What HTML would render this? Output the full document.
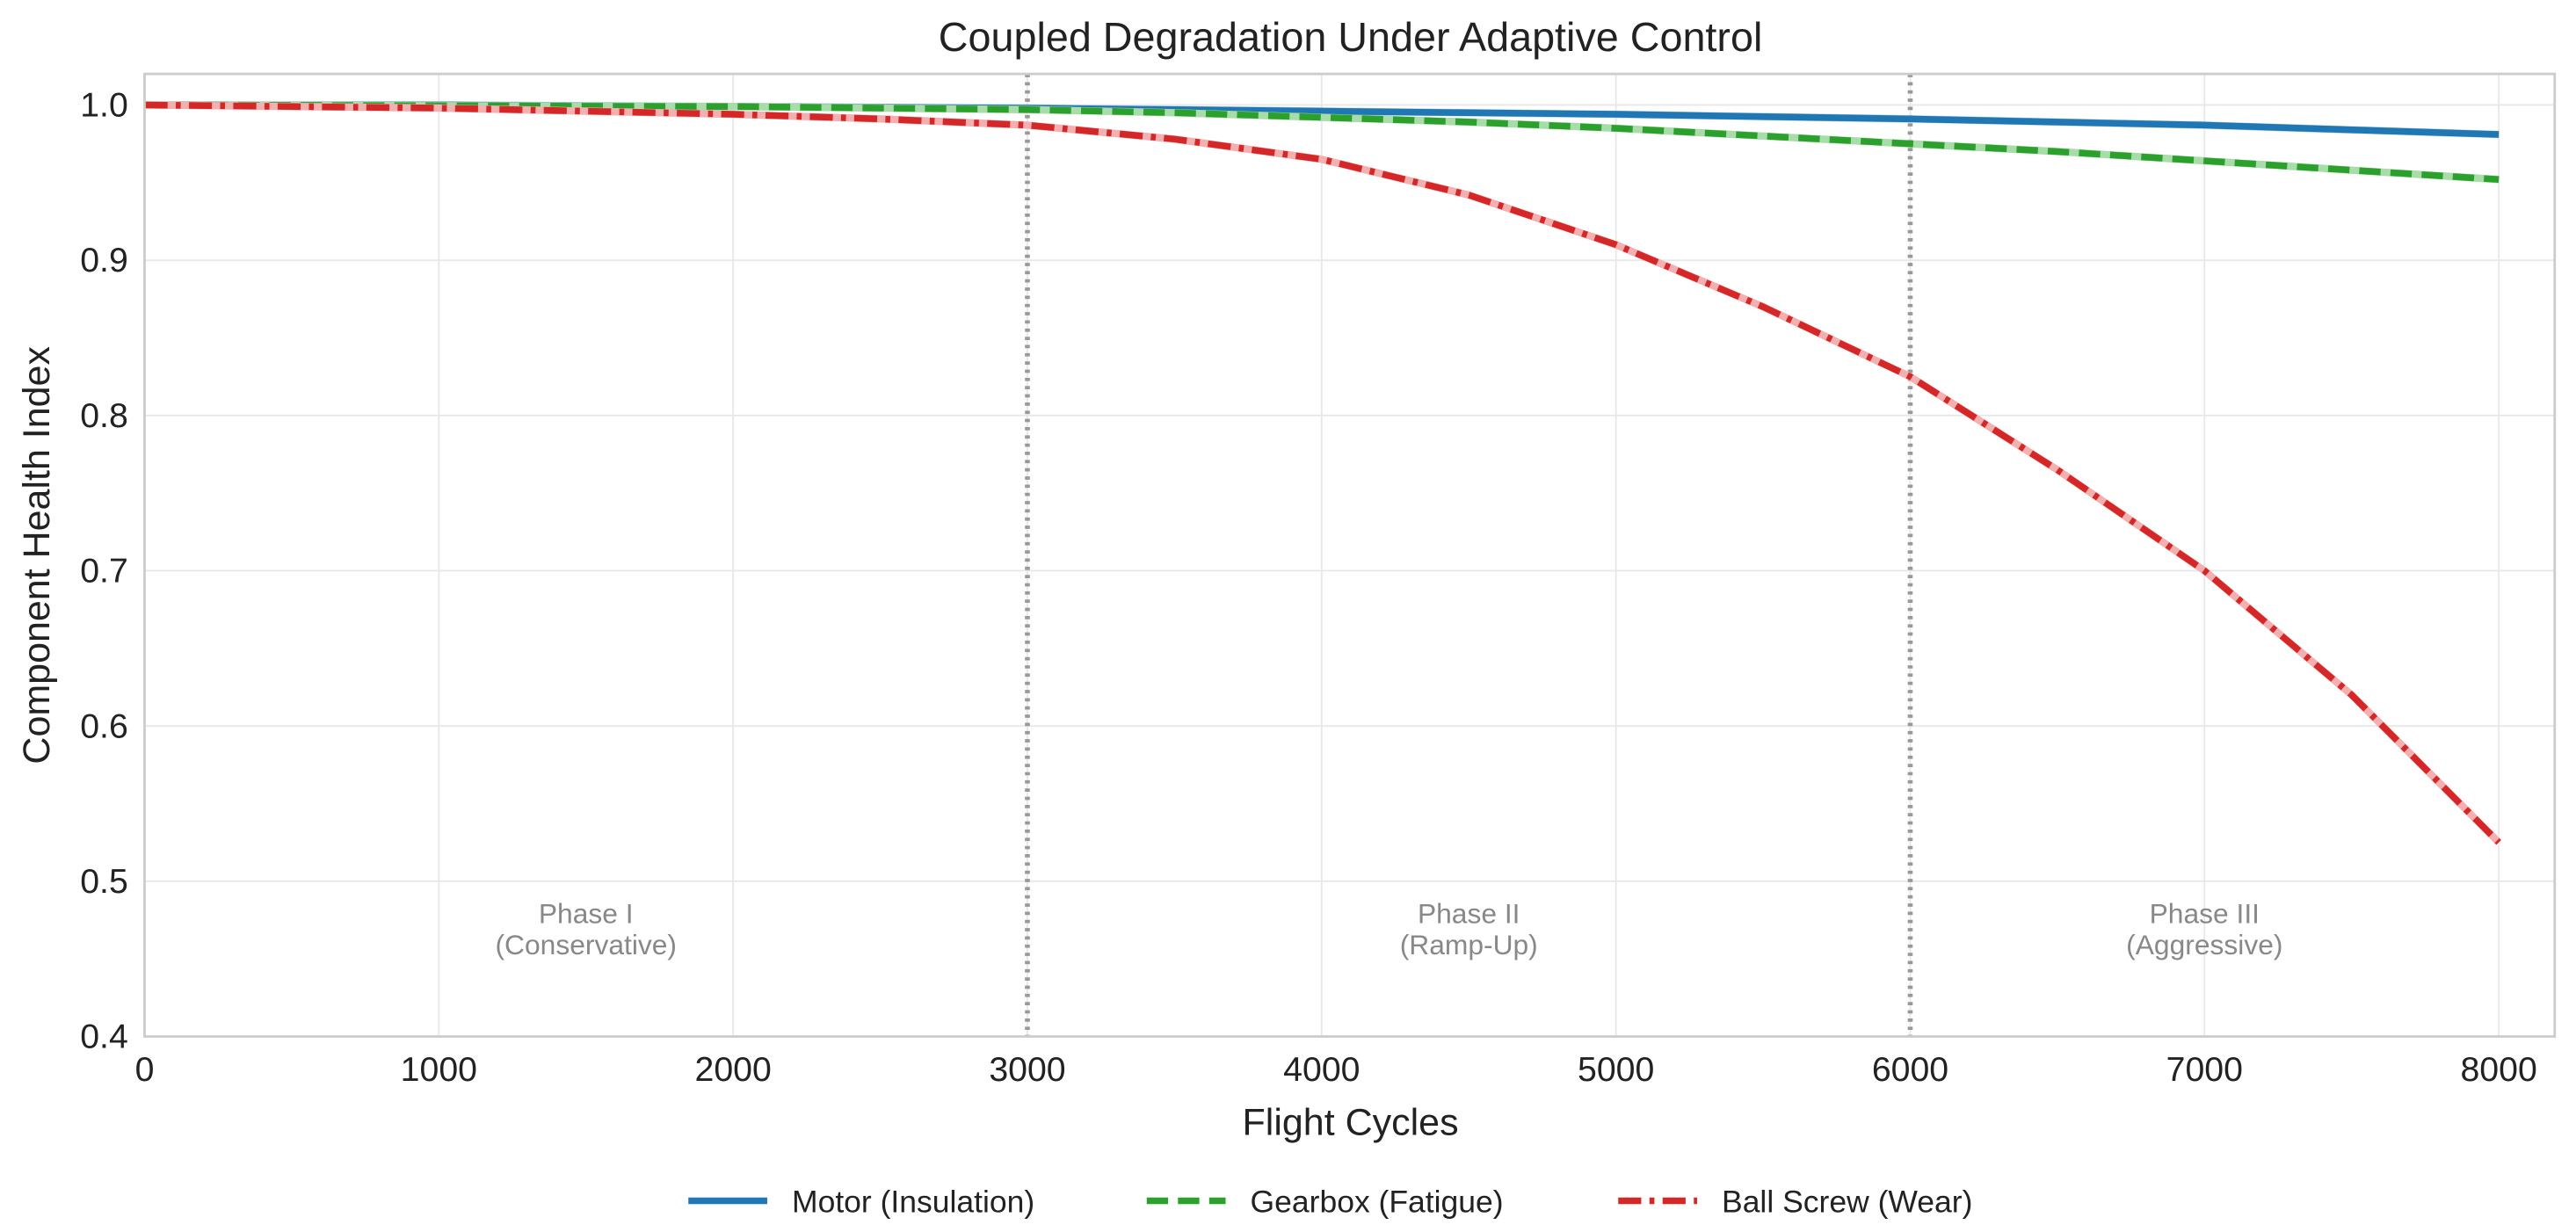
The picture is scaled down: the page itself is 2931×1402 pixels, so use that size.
<!DOCTYPE html>
<html><head><meta charset="utf-8">
<style>
html,body{margin:0;padding:0;background:#fff;}
svg{display:block;font-family:"Liberation Sans","DejaVu Sans",sans-serif;}
</style></head>
<body>
<svg id="chart" width="2931" height="1402" viewBox="0 0 2931 1402" xmlns="http://www.w3.org/2000/svg">
<rect x="0" y="0" width="2931" height="1402" fill="#fff"/>
<g transform="scale(1.8693)">
<text x="822" y="31" text-anchor="middle" font-size="25" fill="#222">Coupled Degradation Under Adaptive Control</text>
<g id="grid"></g>
<g id="phases"></g>
<g id="series"></g>
<rect x="88" y="45" width="1467" height="586" fill="none" stroke="#ccc" stroke-width="1.5"/>
<g id="xticks"></g>
<g id="yticks"></g>
<text x="822" y="691" text-anchor="middle" font-size="23" fill="#222">Flight Cycles</text>
<text transform="translate(30,338) rotate(-90)" text-anchor="middle" font-size="23" fill="#222">Component Health Index</text>
<g font-size="19" fill="#222">
 <g><line x1="419" y1="731" x2="467" y2="731" stroke="#1f77b4" stroke-width="4"/><text x="482" y="738">Motor (Insulation)</text></g>
 <g><line x1="698" y1="731" x2="746" y2="731" stroke="#2ca02c" stroke-width="4" stroke-dasharray="13,6"/><text x="761" y="738">Gearbox (Fatigue)</text></g>
 <g><line x1="985" y1="731" x2="1033" y2="731" stroke="#d62728" stroke-width="4" stroke-dasharray="14,5,3,5"/><text x="1048" y="738">Ball Screw (Wear)</text></g>
</g>
</g>
</svg>
<script>
const xs = [0,500,1000,1500,2000,2500,3000,3500,4000,4500,5000,5500,6000,6500,7000,7500,8000];
const motor = [1.0,1.0,1.0,0.9995,0.999,0.9985,0.998,0.997,0.996,0.995,0.994,0.9925,0.991,0.989,0.987,0.984,0.981];
const gearbox = [1.0,0.9998,0.9995,0.9992,0.999,0.998,0.997,0.995,0.992,0.989,0.985,0.980,0.975,0.970,0.964,0.958,0.952];
const ballscrew = [1.0,0.999,0.998,0.996,0.994,0.991,0.987,0.978,0.965,0.942,0.91,0.87,0.825,0.765,0.70,0.62,0.525];
const xTicks = [0,1000,2000,3000,4000,5000,6000,7000,8000];
const yTicks = [0.4,0.5,0.6,0.7,0.8,0.9,1.0];
const phaseBounds = [3000,6000];
const phaseLabels = [["Phase I","(Conservative)",1500],["Phase II","(Ramp-Up)",4500],["Phase III","(Aggressive)",7000]];
const X0=88,X1=1555,Y0=631,Y1=45,xmin=0,xmax=8190,ymin=0.4,ymax=1.02;
const sx=v=>X0+(v-xmin)/(xmax-xmin)*(X1-X0);
const sy=v=>Y0-(v-ymin)/(ymax-ymin)*(Y0-Y1);
const NS="http://www.w3.org/2000/svg";
function mk(t,a,p){const e=document.createElementNS(NS,t);for(const k in a)e.setAttribute(k,a[k]);p.appendChild(e);return e;}
const grid=document.getElementById('grid'),xt=document.getElementById('xticks'),yt=document.getElementById('yticks');
xTicks.forEach(v=>{
 const l=mk('line',{x1:sx(v),x2:sx(v),y1:Y1,y2:Y0,stroke:'#e8e8e8','stroke-width':1},grid);
 
 
 const t=mk('text',{x:sx(v),y:Y0+27,'text-anchor':'middle','font-size':21,fill:'#222'},xt);
 t.textContent=v;
 
 
});
yTicks.forEach(v=>{
 const l=mk('line',{x1:X0,x2:X1,y1:sy(v),y2:sy(v),stroke:'#e8e8e8','stroke-width':1},grid);
 
 
 const t=mk('text',{x:X0-10,y:sy(v)+7,'text-anchor':'end','font-size':21,fill:'#222'},yt);
 t.textContent=v.toFixed(1);
 
 
});
const ph=document.getElementById('phases');
phaseBounds.forEach(v=>{
 const l=mk('line',{x1:sx(v),x2:sx(v),y1:Y1,y2:Y0,stroke:'#999','stroke-width':3,'stroke-dasharray':'2,3'},ph);
 
 
});
phaseLabels.forEach(p=>{
 const t=mk('text',{x:sx(p[2]),y:sy(0.473),'text-anchor':'middle','font-size':17,fill:'#888'},ph);
 
 
 const a=mk('tspan',{x:sx(p[2]),dy:0},t);a.textContent=p[0];
 const b=mk('tspan',{x:sx(p[2]),dy:19},t);b.textContent=p[1];
});
const sg=document.getElementById('series');
function path(arr){return arr.map((v,i)=>(i?'L':'M')+sx(xs[i]).toFixed(2)+','+sy(v).toFixed(2)).join('');}
[[motor,'#1f77b4','none','motor-line','#aec7e8'],[gearbox,'#2ca02c','13,6','gearbox-line','#a8dca8'],[ballscrew,'#d62728','14,5,3,5','ballscrew-line','#f4b0b0']].forEach(s=>{
 const b=mk('path',{d:path(s[0]),fill:'none',stroke:s[4],'stroke-width':4.5,'stroke-linejoin':'round'},sg);
 
 
 const p=mk('path',{d:path(s[0]),fill:'none',stroke:s[1],'stroke-width':4,'stroke-dasharray':s[2],'stroke-linejoin':'round'},sg);
 
 
});
</script>
</body></html>
